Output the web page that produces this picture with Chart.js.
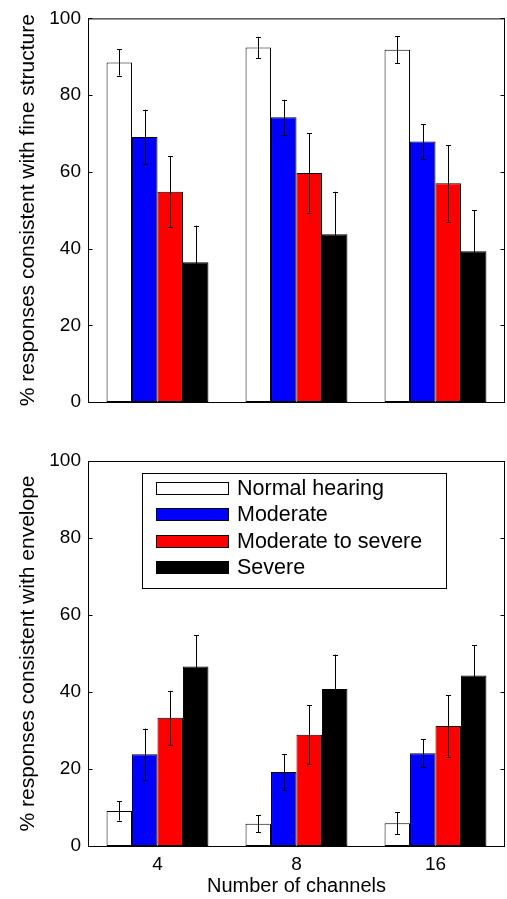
<!DOCTYPE html>
<html><head><meta charset="utf-8">
<script src="https://cdn.jsdelivr.net/npm/chart.js@4.4.1/dist/chart.umd.min.js"></script>
<style>html,body{margin:0;padding:0;background:#fff;overflow:hidden;} canvas{position:absolute;left:0;display:block;}</style>
</head><body>
<canvas id="c1" width="507" height="440" style="top:0px;width:507px;height:440px"></canvas>
<canvas id="c2" width="507" height="459" style="top:440px;width:507px;height:459px"></canvas>
<script>
// ---- data ----
const categories = ['4', '8', '16'];
const seriesNames = ['Normal hearing', 'Moderate', 'Moderate to severe', 'Severe'];
const seriesColors = ['#ffffff', '#0000ff', '#ff0000', '#000000'];
const yTicks = [0, 20, 40, 60, 80, 100];

// % responses consistent with fine structure
const fineNormal = [88.5, 92.4, 91.8];
const fineModerate = [69.1, 74.2, 67.9];
const fineModSevere = [54.8, 59.7, 57.0];
const fineSevere = [36.4, 43.7, 39.3];
const fineNormalErr = [3.4, 2.8, 3.5];
const fineModerateErr = [7.1, 4.6, 4.5];
const fineModSevereErr = [9.3, 10.3, 10.0];
const fineSevereErr = [9.6, 11.1, 10.7];

// % responses consistent with envelope
const envNormal = [9.1, 5.8, 5.9];
const envModerate = [23.8, 19.2, 24.1];
const envModSevere = [33.3, 28.9, 31.2];
const envSevere = [46.6, 40.8, 44.3];
const envNormalErr = [2.5, 2.2, 2.9];
const envModerateErr = [6.7, 4.6, 3.6];
const envModSevereErr = [7.0, 7.6, 8.0];
const envSevereErr = [8.2, 8.9, 7.8];

const yTitleTop = '% responses consistent with fine structure';
const yTitleBottom = '% responses consistent with envelope';
const xTitle = 'Number of channels';

// ---- styling ----
Chart.defaults.font.family = '"Liberation Sans", Arial, Helvetica, sans-serif';
Chart.defaults.color = '#000';

const errorBarPlugin = {
  id: 'errorBars',
  afterDatasetsDraw(chart) {
    const errs = chart.options.plugins.errorBars.errors;
    const ctx = chart.ctx;
    const ys = chart.scales.y;
    ctx.save();
    ctx.strokeStyle = '#000';
    ctx.lineWidth = 1;
    chart.data.datasets.forEach((ds, i) => {
      const meta = chart.getDatasetMeta(i);
      meta.data.forEach((bar, j) => {
        const v = ds.data[j], e = errs[i][j];
        const x = Math.round(bar.x) + 0.5;
        const y1 = ys.getPixelForValue(v + e);
        const y2 = ys.getPixelForValue(v - e);
        const cw = 2.5;
        ctx.beginPath();
        ctx.moveTo(x, y1); ctx.lineTo(x, y2);
        ctx.moveTo(x - cw, Math.round(y1) + 0.5); ctx.lineTo(x + cw, Math.round(y1) + 0.5);
        ctx.moveTo(x - cw, Math.round(y2) + 0.5); ctx.lineTo(x + cw, Math.round(y2) + 0.5);
        ctx.stroke();
      });
    });
    ctx.restore();
  }
};

const framePlugin = {
  id: 'frame',
  afterDraw(chart) {
    const {left, right, top, bottom} = chart.chartArea;
    const ctx = chart.ctx;
    const ys = chart.scales.y;
    ctx.save();
    ctx.strokeStyle = '#000';
    ctx.lineWidth = 1;
    ctx.strokeRect(left + 0.5, top + 0.5, right - left - 1, bottom - top);
    ctx.beginPath();
    yTicks.forEach(t => {
      const y = Math.round(ys.getPixelForValue(t)) + 0.5;
      ctx.moveTo(left, y); ctx.lineTo(left + 4.5, y);
      ctx.moveTo(right - 4.5, y); ctx.lineTo(right, y);
    });
    ctx.stroke();
    ctx.restore();
  }
};

const legendPlugin = {
  id: 'insideLegend',
  afterDraw(chart) {
    if (!chart.options.plugins.insideLegend.show) return;
    const ctx = chart.ctx;
    const ca = chart.chartArea;
    const bx = ca.left + 54, by = ca.top + 12, bw = 304, bh = 115;
    ctx.save();
    ctx.fillStyle = '#fff';
    ctx.fillRect(bx, by, bw, bh);
    ctx.strokeStyle = '#000';
    ctx.lineWidth = 1;
    ctx.strokeRect(bx + 0.5, by + 0.5, bw, bh);
    ctx.font = '21.5px "Liberation Sans", Arial, Helvetica, sans-serif';
    ctx.textBaseline = 'middle';
    ctx.textAlign = 'left';
    chart.data.datasets.forEach((ds, i) => {
      const sy = by + 9 + i * 26.3;
      ctx.fillStyle = ds.backgroundColor;
      ctx.fillRect(bx + 14, Math.round(sy), 72, 12);
      ctx.strokeStyle = '#000';
      ctx.strokeRect(bx + 14.5, Math.round(sy) + 0.5, 72, 12);
      ctx.fillStyle = '#000';
      ctx.fillText(ds.label, bx + 95, sy + 7);
    });
    ctx.restore();
  }
};

function makeDatasets(values) {
  return values.map((v, i) => ({
    label: seriesNames[i],
    data: v,
    backgroundColor: seriesColors[i],
    borderColor: '#000',
    borderWidth: 1,
    borderSkipped: false,
    barPercentage: 1.0,
    categoryPercentage: 0.733
  }));
}

function makeChart(id, values, errs, yTitle, isBottom) {
  return new Chart(document.getElementById(id), {
    type: 'bar',
    data: { labels: categories, datasets: makeDatasets(values) },
    plugins: [errorBarPlugin, framePlugin, legendPlugin],
    options: {
      responsive: false,
      animation: false,
      devicePixelRatio: 1,
      layout: { padding: { left: 0, right: 2, top: isBottom ? 21 : 17, bottom: 0 } },
      plugins: {
        legend: { display: false },
        tooltip: { enabled: false },
        errorBars: { errors: errs },
        insideLegend: { show: isBottom }
      },
      scales: {
        x: {
          offset: true,
          grid: { display: false, drawTicks: false },
          border: { display: false },
          ticks: { display: isBottom, padding: 7, font: { size: 19 }, color: '#000' },
          title: { display: isBottom, text: xTitle, font: { size: 20 }, color: '#000', padding: { top: 0, bottom: 1 } },
          afterFit(scale) { scale.height = isBottom ? 53 : 38; }
        },
        y: {
          min: 0, max: 100,
          afterBuildTicks(scale) { scale.ticks = yTicks.map(v => ({ value: v })); },
          grid: { display: false, drawTicks: false },
          border: { display: false },
          ticks: { padding: 7, font: { size: 19 }, color: '#000' },
          title: { display: true, text: yTitle, font: { size: 21 }, color: '#000', padding: { top: 15.5, bottom: 0 } },
          afterFit(scale) { scale.width = 88; }
        }
      }
    }
  });
}

makeChart('c1',
  [fineNormal, fineModerate, fineModSevere, fineSevere],
  [fineNormalErr, fineModerateErr, fineModSevereErr, fineSevereErr],
  yTitleTop, false);
makeChart('c2',
  [envNormal, envModerate, envModSevere, envSevere],
  [envNormalErr, envModerateErr, envModSevereErr, envSevereErr],
  yTitleBottom, true);
</script>
</body></html>
